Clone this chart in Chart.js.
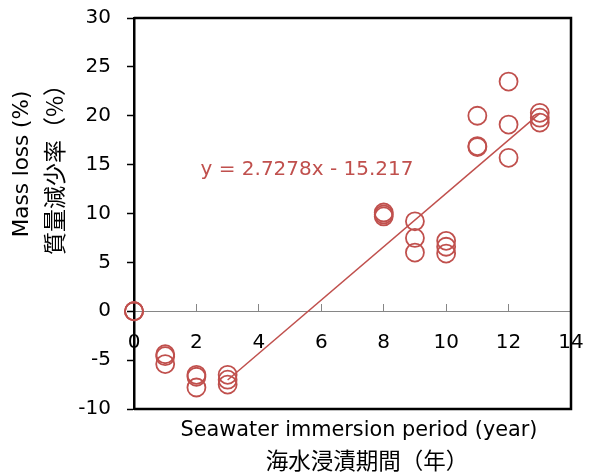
<!DOCTYPE html>
<html><head><meta charset="utf-8">
<script src="https://cdn.jsdelivr.net/npm/chart.js@4/dist/chart.umd.min.js"></script>
<style>html,body{margin:0;padding:0;background:#fff}#wrap{width:594px;height:475px;position:relative}</style>
</head><body><div id="wrap"><canvas id="c" width="594" height="475"></canvas></div>
<script>
// ---- data ----
const years    = [0,0,0, 1,1,1, 2,2,2, 3,3,3, 8,8,8, 9,9,9, 10,10,10, 11,11,11, 12,12,12, 13,13,13];
const massLoss = [0,0,0, -4.4,-4.6,-5.4, -6.5,-6.7,-7.8, -6.5,-7.0,-7.5, 10.1,9.9,9.7, 9.2,7.5,6.0, 7.2,6.6,5.9, 20.0,16.9,16.8, 23.5,19.1,15.7, 20.3,19.8,19.3];
const trendX = [3, 13];
const trendY = [-7.03, 20.24];
const xTicks = [0,2,4,6,8,10,12,14];
const yTicks = [-10,-5,0,5,10,15,20,25,30];
const equationText = 'y = 2.7278x - 15.217';
const equationAt = [2.13, 13.95];
const xTitle = ['Seawater immersion period (year)', '海水浸漬期間（年）'];
const yTitle = ['Mass loss (%)', '質量減少率（%）'];

const RED = '#C0504D';
const LATIN = "'DejaVu Sans', 'Liberation Sans', Arial, sans-serif";
const CJK = "'Noto Sans CJK JP', 'Noto Sans CJK SC', sans-serif";

const points = years.map((x, i) => ({x: x, y: massLoss[i]}));
const trend = trendX.map((x, i) => ({x: x, y: trendY[i]}));

const decor = {
  id: 'decor',
  beforeDatasetsDraw(chart) {
    const {ctx, chartArea: a} = chart;
    ctx.save();
    ctx.strokeStyle = '#000';
    ctx.lineWidth = 2.5;
    ctx.beginPath();
    ctx.moveTo(a.left, a.top); ctx.lineTo(a.right, a.top);
    ctx.lineTo(a.right, a.bottom); ctx.lineTo(a.left, a.bottom);
    ctx.stroke();
    ctx.restore();
  },
  afterDraw(chart) {
    const {ctx, scales} = chart;
    ctx.save();
    // equation label
    ctx.fillStyle = RED;
    ctx.font = "20px " + LATIN;
    ctx.textAlign = 'left';
    ctx.textBaseline = 'alphabetic';
    ctx.fillText(equationText, scales.x.getPixelForValue(equationAt[0]), scales.y.getPixelForValue(equationAt[1]));
    // x title
    ctx.fillStyle = '#000';
    ctx.textAlign = 'center';
    ctx.textBaseline = 'alphabetic';
    ctx.font = "20.8px " + LATIN;
    ctx.fillText(xTitle[0], 359, 436);
    ctx.font = "22.5px " + CJK;
    ctx.textBaseline = 'middle';
    ctx.fillText(xTitle[1], 367, 460);
    // y title (rotated)
    ctx.save();
    ctx.translate(22, 164);
    ctx.rotate(-Math.PI / 2);
    ctx.font = "21.5px " + LATIN;
    ctx.textBaseline = 'middle';
    ctx.fillText(yTitle[0], 0, 0);
    ctx.restore();
    ctx.save();
    ctx.translate(54, 164);
    ctx.rotate(-Math.PI / 2);
    ctx.font = "23px " + CJK;
    ctx.textBaseline = 'middle';
    ctx.fillText(yTitle[1], 0, 0);
    ctx.restore();
    ctx.restore();
  }
};

new Chart(document.getElementById('c'), {
  type: 'scatter',
  data: {
    datasets: [
      {
        label: 'Mass loss',
        data: points,
        pointStyle: 'circle',
        pointRadius: 9,
        pointHoverRadius: 9,
        pointBorderWidth: 1.8,
        borderColor: RED,
        backgroundColor: 'rgba(0,0,0,0)',
        showLine: false,
        clip: false,
        order: 1
      },
      {
        label: 'Trend',
        data: trend,
        showLine: true,
        borderColor: RED,
        borderWidth: 1.5,
        pointRadius: 0,
        fill: false,
        clip: false,
        order: 2
      }
    ]
  },
  options: {
    responsive: false,
    animation: false,
    devicePixelRatio: 1,
    layout: {padding: {left: 0, right: 23, top: 18, bottom: 66}},
    plugins: {legend: {display: false}, tooltip: {enabled: false}},
    scales: {
      x: {
        type: 'linear',
        position: {y: 0},
        min: 0, max: 14,
        afterBuildTicks: s => { s.ticks = xTicks.map(v => ({value: v})); },
        afterFit: s => { s.paddingLeft = 0; s.paddingRight = 0; },
        ticks: {autoSkip: false, maxRotation: 0, color: '#000', padding: 28, font: {family: LATIN, size: 20}},
        grid: {drawOnChartArea: false, color: '#868686', tickLength: -8, tickWidth: 1},
        border: {color: '#868686', width: 1}
      },
      y: {
        type: 'linear',
        position: 'left',
        min: -10, max: 30,
        afterBuildTicks: s => { s.ticks = yTicks.map(v => ({value: v})); },
        afterFit: s => { s.width = 134; s.paddingTop = 0; s.paddingBottom = 0; },
        ticks: {color: '#000', padding: 16, font: {family: LATIN, size: 20}},
        grid: {drawOnChartArea: false, color: '#000', tickLength: 7, tickWidth: 1.5},
        border: {color: '#000', width: 2.5}
      }
    }
  },
  plugins: [decor]
});
</script>
</body></html>
